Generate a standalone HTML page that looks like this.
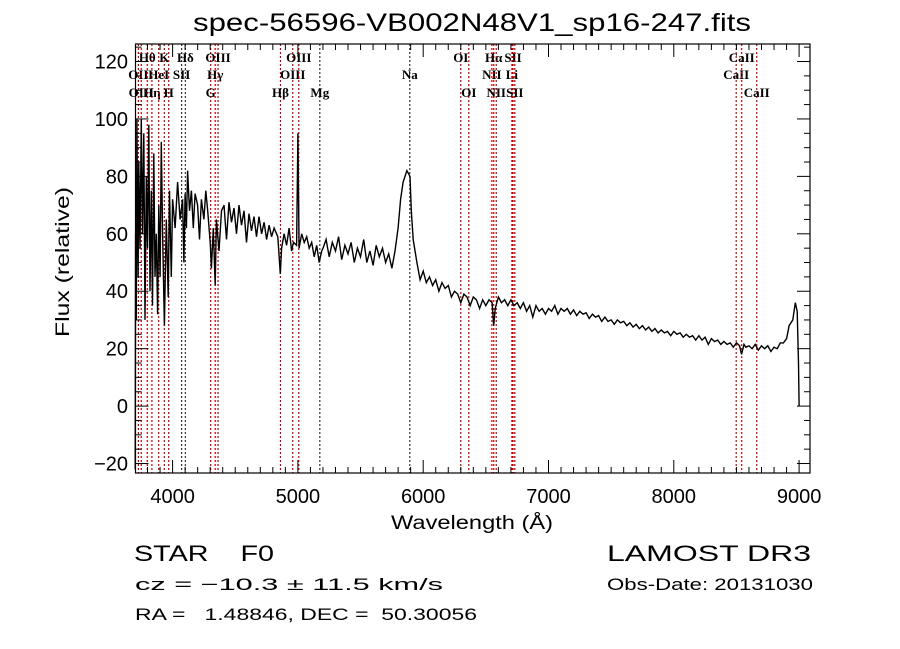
<!DOCTYPE html>
<html><head><meta charset="utf-8"><style>
html,body{margin:0;padding:0;background:#fff;}
svg{display:block;font-family:"Liberation Sans",sans-serif;}
</style></head><body>
<svg id="chart" width="900" height="649" viewBox="0 0 900 649" xmlns="http://www.w3.org/2000/svg">
<rect width="900" height="649" fill="#fff"/>
<text x="472" y="31" font-size="25" text-anchor="middle" textLength="558" lengthAdjust="spacingAndGlyphs">spec-56596-VB002N48V1_sp16-247.fits</text>
<g id="lines"></g>
<g id="spec"></g>
<g id="axes"></g>
<text x="472" y="529" font-size="19" text-anchor="middle" textLength="162" lengthAdjust="spacingAndGlyphs">Wavelength (Å)</text>
<text transform="translate(69,262) rotate(-90)" font-size="19" text-anchor="middle" textLength="150" lengthAdjust="spacingAndGlyphs">Flux (relative)</text>
<text x="134" y="561" font-size="22" textLength="140" lengthAdjust="spacingAndGlyphs" xml:space="preserve">STAR    F0</text>
<text x="135" y="590" font-size="17" textLength="308" lengthAdjust="spacingAndGlyphs">cz = −10.3 ± 11.5 km/s</text>
<text x="135" y="620" font-size="17" textLength="342" lengthAdjust="spacingAndGlyphs" xml:space="preserve">RA =   1.48846, DEC =  50.30056</text>
<text x="607" y="561" font-size="22" textLength="204" lengthAdjust="spacingAndGlyphs">LAMOST DR3</text>
<text x="607" y="590" font-size="17" textLength="206" lengthAdjust="spacingAndGlyphs">Obs-Date: 20131030</text>
</svg>
<script>
const wavelengths=[3702,3705,3710,3715,3720,3725,3730,3740,3750,3760,3770,3780,3790,3800,3810,3820,3830,3840,3850,3860,3870,3880,3890,3900,3910,3920,3935,3950,3965,3975,3990,4000,4020,4040,4060,4080,4090,4100,4110,4120,4135,4150,4165,4180,4200,4215,4230,4250,4265,4280,4300,4310,4325,4340,4350,4370,4390,4410,4430,4450,4470,4490,4510,4530,4550,4570,4590,4610,4630,4650,4670,4690,4710,4730,4750,4770,4790,4810,4840,4860,4870,4890,4910,4930,4950,4965,4990,5000,5010,5030,5050,5070,5090,5110,5130,5150,5170,5190,
5200,5225,5250,5275,5300,5325,5350,5375,5400,5425,5450,5475,5500,5525,5550,5575,5600,5625,5650,5675,5700,5725,5750,5775,
5800,5820,5840,5870,5895,5905,5920,5950,5975,
6000,6025,6050,6075,6100,6125,6150,6175,6200,6225,6250,6275,6300,6325,6350,6375,6400,6425,6450,6475,6500,6525,6550,6563,6575,6600,6625,6650,6675,6700,6725,6750,6775,6800,6825,6850,6875,6900,6925,6950,6975,
7000,7025,7050,7075,7100,7125,7150,7175,7200,7225,7250,7275,7300,7325,7350,7375,7400,7425,7450,7475,7500,7525,7550,7575,7600,7625,7650,7675,7700,7725,7750,7775,7800,7825,7850,7875,7900,7925,7950,7975,
8000,8025,8050,8075,8100,8125,8150,8175,8200,8225,8250,8275,8300,8325,8350,8375,8400,8425,8450,8475,8500,8525,8540,8560,8575,8600,8625,8650,8675,8700,8725,8750,8775,8800,8825,8850,8875,8900,8920,8950,8970,8985,8995,9000];
const fluxes=[-22,60,30,100,70,45,85,55,100,60,95,30,80,55,98,40,75,35,88,45,60,32,70,45,92,60,28,65,38,75,45,72,62,78,65,72,50,74,62,82,68,75,62,74,70,58,72,65,75,68,57,48,62,42,65,54,68,70,58,71,64,69,60,70,63,68,57,67,61,66,59,66,60,64,58,63,59,62,59,46,55,60,56,62,54,57,56,95,55,60,57,59,55,57,52,56,50,54,
55,58,52,57,54,59,51,56,53,57,50,55,52,58,50,54,49,56,52,55,50,53,48,54,
62,72,78,82,80,68,58,50,44,
47,43,45,42,44,40,43,41,42,38,40,39,36,39,38,35,38,37,34,37,35,37,36,28,34,38,36,37,35,37,35,36,34,36,33,35,31,35,33,34,32,
34,33,35,32,34,33,34,32,33.5,31.5,33,32,32.5,30.5,32,31,31.5,29.5,31,29.5,30,28.5,30,29,29.5,28,29,27.5,28.5,27,28,26.5,27.5,26,27,25.5,26.5,25.5,26,24.5,
26,25,25.5,24,25,24,24.5,23,24.5,23,24,21.5,23.5,22.5,23,21.5,22.5,21.5,22,20.5,22,21,18,21.5,20.5,21,20,21.5,19.5,21,20,21,19,20.5,20,22,22,23.5,28,30,36,33,15,0];
const lineWl=[3727,3750,3798,3835,3889,3934,3969,4072,4102,4304,4340,4363,4861,4959,5007,5175,5893,6300,6364,6548,6563,6583,6708,6717,6731,8498,8542,8662];
const lineNames=["OII","OIII","Hθ","Hη","HeI","K","H","SII","Hδ","G","Hγ","OIII","Hβ","OIII","OIII","Mg","Na","OI","OI","NII","Hα","NII","Li","SII","SII","CaII","CaII","CaII"];
const lineRows=[1,2,0,2,1,0,2,1,0,2,1,0,2,1,0,2,1,0,2,1,0,2,1,0,2,1,0,2];
const xTicks=[4000,5000,6000,7000,8000,9000];
const yTicks=[-20,0,20,40,60,80,100,120];
const X0=135.5,X1=810,Y0=44,Y1=473;
const xmin=3704,xmax=9087,ymin=-23.3,ymax=126.1;
const xs=w=>X0+(w-xmin)/(xmax-xmin)*(X1-X0);
const ys=f=>Y1-(f-ymin)/(ymax-ymin)*(Y1-Y0);
const NS="http://www.w3.org/2000/svg";
function mk(t,a,p){const e=document.createElementNS(NS,t);for(const k in a)e.setAttribute(k,a[k]);p.appendChild(e);return e;}
const gl=document.getElementById('lines');
const rowY=[62,79,97];
lineWl.forEach((w,i)=>{
  const black=(lineNames[i]==="Na"||lineNames[i]==="Mg"||w===4072||w===4102);
  const l=mk('line',{x1:xs(w),x2:xs(w),y1:Y0,y2:Y1,stroke:black?'#333':'#c00000','stroke-width':1.2,'stroke-dasharray':'2,2'},gl);
  
  
  const t=mk('text',{x:xs(w),y:rowY[lineRows[i]],'font-size':13,'font-weight':'bold','text-anchor':'middle','font-family':'Liberation Serif, serif'},gl);
  t.textContent=lineNames[i];
  
  
});
const gs=document.getElementById('spec');
let d='';
wavelengths.forEach((w,i)=>{d+=(i?'L':'M')+xs(w).toFixed(1)+' '+ys(fluxes[i]).toFixed(1);});
const p=mk('path',{d:d,fill:'none',stroke:'#000','stroke-width':1.4,'stroke-linejoin':'miter'},gs);


const ga=document.getElementById('axes');
const fr=mk('rect',{x:X0,y:Y0,width:X1-X0,height:Y1-Y0,fill:'none',stroke:'#000','stroke-width':1.2},ga);


for(let w=3800;w<=9000;w+=100){
  const L=(w%1000===0)?13:6;
  mk('line',{x1:xs(w),x2:xs(w),y1:Y1,y2:Y1-L,stroke:'#000'},ga);
  mk('line',{x1:xs(w),x2:xs(w),y1:Y0,y2:Y0+L,stroke:'#000'},ga);
}
for(let f=-20;f<=125;f+=5){
  const L=(f%20===0)?13:6;
  mk('line',{x1:X0,x2:X0+L,y1:ys(f),y2:ys(f),stroke:'#000'},ga);
  mk('line',{x1:X1,x2:X1-L,y1:ys(f),y2:ys(f),stroke:'#000'},ga);
}
xTicks.forEach(w=>{
  const t=mk('text',{x:xs(w),y:503,'font-size':20,'text-anchor':'middle'},ga);
  t.textContent=w;
  
  
});
yTicks.forEach(f=>{
  const t=mk('text',{x:128,y:ys(f)+7,'font-size':20,'text-anchor':'end'},ga);
  t.textContent=f<0?'−'+(-f):f;
  
  
});
</script>
</body></html>
